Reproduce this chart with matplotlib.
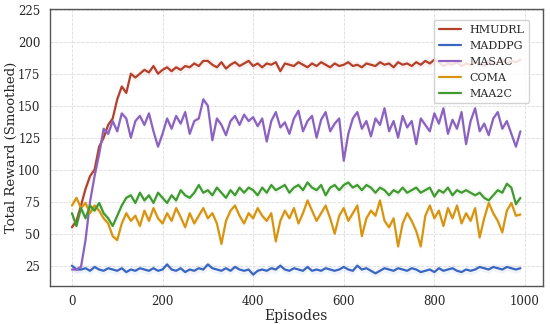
"""
Smoothed training reward curves for five multi-agent RL methods.
"""

import matplotlib

matplotlib.use("Agg")
import matplotlib.pyplot as plt
import numpy as np
import seaborn as sns

# ── Data (sampled every 10 episodes) ──
episodes = np.arange(0, 1000, 10)

hmudrl = [
    55, 60, 72, 85, 95, 100, 118, 125, 135, 140,
    155, 165, 160, 175, 172, 175, 178, 176, 181, 175,
    178, 180, 177, 180, 178, 181, 180, 183, 181, 185,
    185, 182, 180, 184, 179, 182, 184, 181, 183, 185,
    181, 183, 180, 183, 182, 184, 177, 183, 182, 181,
    184, 182, 180, 183, 181, 184, 182, 180, 183, 181,
    182, 184, 181, 182, 180, 183, 182, 181, 184, 182,
    183, 180, 184, 182, 183, 181, 184, 182, 185, 183,
    186, 184, 181, 183, 182, 184, 181, 183, 182, 184,
    183, 181, 185, 182, 184, 186, 183, 185, 184, 186,
]
maddpg = [
    25, 22, 22, 23, 21, 24, 22, 21, 23, 22,
    21, 23, 20, 22, 21, 23, 22, 21, 23, 21,
    22, 26, 22, 21, 23, 20, 22, 21, 23, 22,
    26, 23, 22, 21, 23, 21, 24, 22, 21, 22,
    18, 21, 22, 21, 23, 22, 25, 22, 21, 23,
    22, 21, 24, 21, 22, 21, 23, 22, 21, 22,
    24, 22, 21, 25, 22, 23, 21, 19, 21, 23,
    22, 21, 23, 22, 21, 23, 22, 20, 21, 22,
    20, 23, 21, 22, 23, 21, 20, 22, 21, 22,
    24, 23, 22, 24, 23, 22, 24, 23, 22, 23,
]
masac = [
    22, 22, 24, 45, 75, 95, 112, 132, 128, 138,
    130, 144, 140, 125, 138, 142, 135, 144, 130, 118,
    128, 140, 132, 142, 136, 145, 128, 138, 140, 155,
    150, 123, 140, 135, 127, 138, 142, 135, 143, 138,
    141, 134, 140, 122, 138, 145, 133, 137, 128, 140,
    146, 130, 138, 142, 125, 139, 145, 130, 136, 140,
    107, 128, 140, 145, 132, 138, 126, 140, 135, 148,
    130, 138, 125, 142, 133, 138, 120, 140, 135, 130,
    144, 136, 148, 128, 139, 132, 145, 120, 138, 148,
    130, 136, 127, 140, 145, 132, 138, 128, 118, 130,
]
coma = [
    72, 78, 70, 74, 66, 72, 68, 62, 58, 48,
    45, 58, 66, 60, 64, 56, 68, 60, 70, 62,
    58, 66, 60, 70, 63, 55, 66, 58, 64, 70,
    62, 66, 58, 42, 60, 68, 72, 64, 58, 66,
    62, 70, 64, 60, 66, 44, 60, 68, 62, 70,
    58, 66, 76, 68, 60, 66, 72, 62, 50, 64,
    70, 60, 66, 72, 48, 62, 68, 64, 76, 60,
    55, 62, 40, 58, 66, 60, 52, 40, 64, 72,
    62, 68, 56, 70, 62, 72, 58, 66, 60, 70,
    47, 62, 74, 66, 60, 51, 68, 74, 64, 65,
]
maa2c = [
    66, 56, 70, 62, 72, 68, 74, 66, 62, 56,
    64, 72, 78, 80, 74, 82, 76, 80, 74, 82,
    78, 74, 80, 76, 84, 80, 78, 82, 88, 82,
    84, 80, 86, 82, 78, 84, 80, 86, 82, 86,
    84, 80, 86, 82, 88, 84, 86, 88, 82, 86,
    88, 84, 90, 86, 84, 88, 80, 86, 88, 84,
    88, 90, 86, 88, 84, 88, 86, 82, 86, 84,
    80, 84, 82, 86, 82, 84, 86, 82, 84, 86,
    79, 84, 82, 86, 80, 84, 82, 84, 82, 80,
    82, 78, 76, 80, 84, 82, 89, 86, 73, 78,
]

labels = ["HMUDRL", "MADDPG", "MASAC", "COMA", "MAA2C"]
series = [hmudrl, maddpg, masac, coma, maa2c]
colors = ["#b5402a", "#3a66c0", "#8b62c0", "#d9940f", "#3f9a2f"]
band = 3.0  # half-width of the faint shaded band

# ── Style ──
sns.set_style("whitegrid")
plt.rcParams["font.family"] = ["DejaVu Serif"]

fig, ax = plt.subplots(figsize=(5.5, 3.24), dpi=100)
fig.subplots_adjust(left=0.09, right=0.987, top=0.972, bottom=0.118)

for y, lab, c in zip(series, labels, colors):
    y = np.asarray(y, dtype=float)
    ax.fill_between(episodes, y - band, y + band, color=c, alpha=0.08, linewidth=0)
    ax.plot(episodes, y, color=c, linewidth=1.6, label=lab)

ax.set_ylim(9.3, 225.5)
ax.set_yticks(np.arange(25, 226, 25))
ax.set_xticks(np.arange(0, 1001, 200))
ax.set_xlabel("Episodes", fontsize=10, labelpad=1)
ax.set_ylabel("Total Reward (Smoothed)", fontsize=9.5, labelpad=0)
ax.tick_params(labelsize=8.5, pad=3)
ax.grid(True, linestyle="--", linewidth=0.6, color="#dddddd")

for s in ax.spines.values():
    s.set_edgecolor("#555555")
    s.set_linewidth(1.0)

ax.legend(loc="upper right", bbox_to_anchor=(0.972, 0.96), borderaxespad=0,
          fontsize=8, frameon=True, framealpha=0.85, edgecolor="#cccccc",
          handlelength=2.0, borderpad=0.4, labelspacing=0.55)

fig.savefig("out.png", dpi=100, facecolor="white")
plt.close(fig)
